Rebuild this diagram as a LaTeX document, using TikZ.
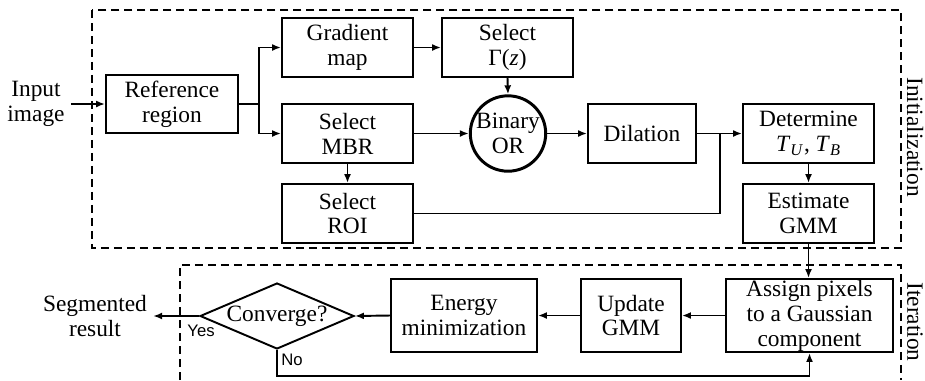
\documentclass[tikz,border=0pt]{standalone}
\usepackage{fontspec}
\setmainfont{Liberation Serif}
\newfontfamily\yesnofont{Liberation Sans}
\usetikzlibrary{arrows.meta, shapes.geometric}

\begin{document}
\begin{tikzpicture}[x=0.02cm, y=-0.02cm,
        every node/.style={font=\fontsize{13.3}{14.2}\selectfont, align=center},
        blk/.style={draw, line width=1.1pt, inner sep=0pt, minimum width=2.62cm, minimum height=1.18cm},
        orgate/.style={draw, circle, line width=1.7pt, inner sep=0pt, minimum size=1.36cm},
        decide/.style={draw, diamond, aspect=2.33, line width=1.1pt, inner sep=0pt, minimum width=3.08cm, minimum height=1.32cm},
        arr/.style={line width=1.1pt, -{Latex[length=1.8mm, width=1.4mm]}},
        wire/.style={line width=1.1pt},
        frame/.style={line width=1.1pt, dash pattern=on 0.16cm off 0.1cm},
        sidelabel/.style={rotate=-90, font=\fontsize{13.3}{14.2}\selectfont},
        yesno/.style={font=\yesnofont\fontsize{9.5}{11}\selectfont}]
        \useasboundingbox (0,0) rectangle (925,380);

        % Dashed frames
        \draw[frame] (92,10) rectangle (901,248);
        \draw[frame] (180,380) |- (901,265) -- (901,380);
        \node[sidelabel] (initlabel) at (915,137) {Initialization};
        \node[sidelabel] (iterlabel) at (915,322) {Iteration};

        % Initialization blocks
        \node (input) at (36,104) {Input\\image};
        \node[blk, minimum width=2.64cm, minimum height=1.16cm] (ref) at (172,104) {Reference\\region};
        \node[blk] (grad) at (347.5,47.5) {Gradient\\map};
        \node[blk] (mbr) at (347.5,133.5) {Select\\MBR};
        \node[blk] (roi) at (347.5,213.5) {Select\\ROI};
        \node[blk] (gamma) at (507.5,47.5) {Select\\Γ(\textit{z})};
        \node[orgate] (or) at (508,133.5) {Binary\\OR};
        \node[blk, minimum width=2.16cm] (dil) at (642,133.5) {Dilation};
        \node[blk] (det) at (808.5,133.5) {Determine\\\textit{T}\textsubscript{\textit{U}}, \textit{T}\textsubscript{\textit{B}}};
        \node[blk] (est) at (808.5,213.5) {Estimate\\GMM};

        % Iteration blocks
        \node[blk, minimum width=3.34cm, minimum height=1.46cm] (assign) at (809.5,315.5) {Assign pixels\\to a Gaussian\\component};
        \node[blk, minimum width=2.0cm, minimum height=1.46cm] (update) at (631,315.5) {Update\\GMM};
        \node[blk, minimum width=2.92cm, minimum height=1.46cm] (energy) at (464,315.5) {Energy\\minimization};
        \node[decide] (conv) at (277,316) {Converge?};
        \node (result) at (95,316) {Segmented\\result};

        % Junction points
        \coordinate (split) at (259,104);
        \coordinate (merge) at (720,133.5);

        % Connectors of the initialization part
        \draw[arr] (input.east) -- (ref.west);
        \draw[wire] (ref.east) -- (split);
        \draw[arr] (split) |- (grad.west);
        \draw[arr] (split) |- (mbr.west);
        \draw[arr] (grad.east) -- (gamma.west);
        \draw[arr] (gamma.south) -- (or.north);
        \draw[arr] (mbr.east) -- (or.west);
        \draw[arr] (mbr.south) -- (roi.north);
        \draw[arr] (or.east) -- (dil.west);
        \draw[arr] (dil.east) -- (det.west);
        \draw[wire] (roi.east) -| (merge);
        \draw[arr] (det.south) -- (est.north);
        \draw[arr] (est.south) -- (assign.north -| est.south);

        % Connectors of the iteration part
        \draw[arr] (assign.west) -- (update.east);
        \draw[arr] (update.west) -- (energy.east);
        \draw[arr] (energy.west) -- (conv.east);
        \draw[arr] (conv.west) -- (result.east);
        \draw[arr] (conv.south) -- ++(0,26) -| (assign.south);

        % Decision labels
        \node[yesno] (yes) at (201,331) {Yes};
        \node[yesno] (no) at (292,360) {No};
    \end{tikzpicture}
\end{document}
